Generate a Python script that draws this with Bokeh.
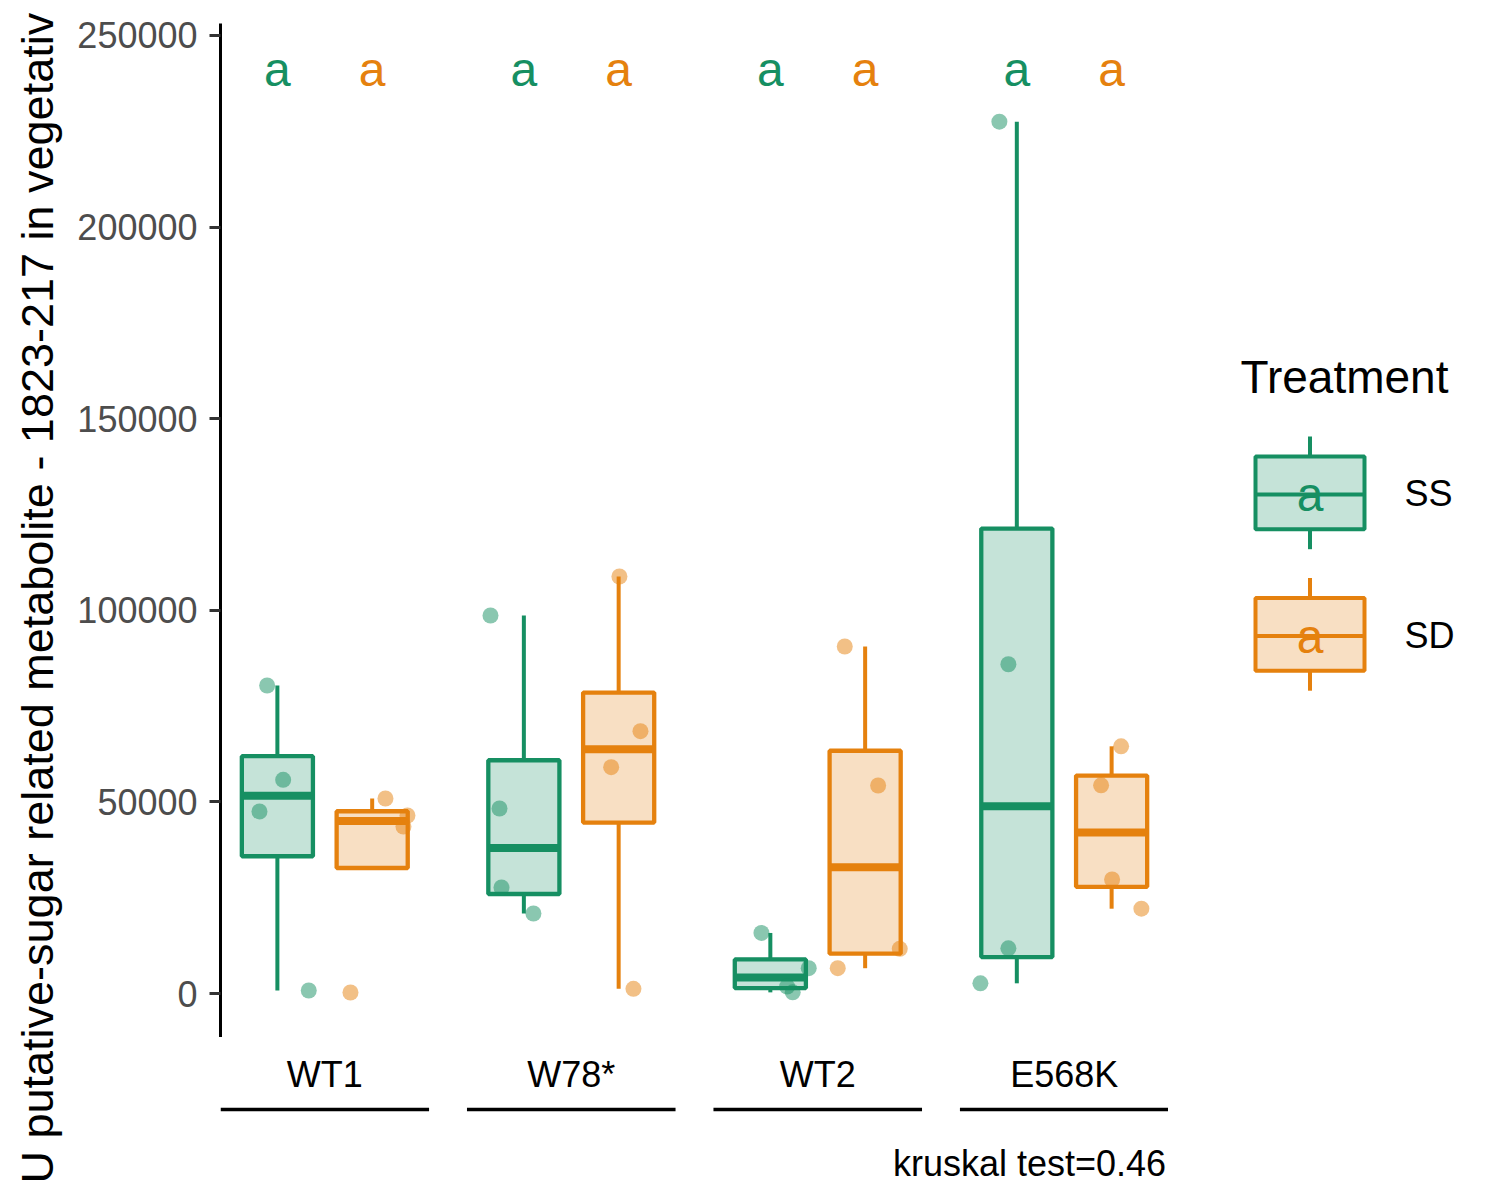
import numpy as np
from bokeh.plotting import figure
from bokeh.models import Range1d, FixedTicker, BasicTickFormatter
from bokeh.layouts import row, column
from bokeh.core.properties import value
from bokeh.embed import file_html
from bokeh.resources import INLINE

# ---------------- data ----------------
genotypes = ["WT1", "W78*", "WT2", "E568K"]
treatments = ["SS", "SD"]
colors = {"SS": "#168F62", "SD": "#E5810E"}

WT1_SS = [80380, 55770, 47490, 780]
WT1_SD = [50890, 46450, 43580, 260]
W78_SS = [98640, 48280, 27660, 20880]
W78_SD = [108820, 68450, 59060, 1230]
WT2_SS = [15800, 6600, 1800, 300]
WT2_SD = [90550, 54280, 11660, 6600]
E568K_SS = [227500, 85930, 11800, 2660]
E568K_SD = [64510, 54330, 29750, 22130]

# horizontal jitter of each point (in treatment-position units)
WT1_SS_jit = [-0.108, 0.061, -0.189, 0.331]
WT1_SD_jit = [0.140, 0.372, 0.330, -0.229]
W78_SS_jit = [-0.352, -0.257, -0.236, 0.101]
W78_SD_jit = [0.008, 0.230, -0.079, 0.156]
WT2_SS_jit = [-0.094, 0.405, 0.177, 0.236]
WT2_SD_jit = [-0.215, 0.137, 0.365, -0.289]
E568K_SS_jit = [-0.184, -0.089, -0.089, -0.384]
E568K_SD_jit = [0.100, -0.111, 0.005, 0.314]

letters_SS = ["a", "a", "a", "a"]
letters_SD = ["a", "a", "a", "a"]
letter_y = 241000
y_ticks = [0, 50000, 100000, 150000, 200000, 250000]
kruskal_label = "kruskal test=0.46"
y_title = "U putative-sugar related metabolite - 1823-217 in vegetativ"
legend_title = "Treatment"

values = {
    ("WT1", "SS"): WT1_SS, ("WT1", "SD"): WT1_SD,
    ("W78*", "SS"): W78_SS, ("W78*", "SD"): W78_SD,
    ("WT2", "SS"): WT2_SS, ("WT2", "SD"): WT2_SD,
    ("E568K", "SS"): E568K_SS, ("E568K", "SD"): E568K_SD,
}
jitters = {
    ("WT1", "SS"): WT1_SS_jit, ("WT1", "SD"): WT1_SD_jit,
    ("W78*", "SS"): W78_SS_jit, ("W78*", "SD"): W78_SD_jit,
    ("WT2", "SS"): WT2_SS_jit, ("WT2", "SD"): WT2_SD_jit,
    ("E568K", "SS"): E568K_SS_jit, ("E568K", "SD"): E568K_SD_jit,
}
letters = {"SS": letters_SS, "SD": letters_SD}

FONT = value("Liberation Sans")
PANEL_STEP = 2.6      # panel width 2.2 + spacing 0.4
BOX_W = 0.75
TOTAL_H = 1192
LEFT_W = 72
MAIN_BORDER = 148


def box_stats(v):
    v = np.asarray(v, float)
    q1, med, q3 = np.percentile(v, [25, 50, 75])
    iqr = q3 - q1
    inside = v[(v >= q1 - 1.5 * iqr) & (v <= q3 + 1.5 * iqr)]
    lo = min(q1, inside.min())
    hi = max(q3, inside.max())
    return q1, med, q3, lo, hi


def bare(fig):
    fig.outline_line_color = None
    fig.grid.visible = False
    fig.background_fill_color = "white"
    fig.border_fill_color = "white"
    return fig


xr = Range1d(0.4, 0.4 + PANEL_STEP * len(genotypes) - 0.4)

# ---------------- main figure ----------------
main = bare(figure(width=MAIN_BORDER + 948, height=1037, x_range=xr,
                   y_range=Range1d(-11480, 253130),
                   output_backend="svg", toolbar_location=None, title=None,
                   x_axis_location=None, min_border_left=MAIN_BORDER, min_border_right=0,
                   min_border_top=23, min_border_bottom=0))

ya = main.yaxis[0]
ya.ticker = FixedTicker(ticks=y_ticks)
ya.formatter = BasicTickFormatter(use_scientific=False)
ya.axis_line_width = 3
ya.axis_line_color = "black"
ya.major_tick_line_width = 3
ya.major_tick_line_color = "#333333"
ya.major_tick_in = 0
ya.major_tick_out = 11
ya.minor_tick_line_color = None
ya.major_label_text_font = "Liberation Sans"
ya.major_label_text_font_size = "36px"
ya.major_label_text_color = "#4D4D4D"
ya.major_label_standoff = 12

for gi, g in enumerate(genotypes):
    for ti, t in enumerate(treatments):
        xc = 1 + ti + PANEL_STEP * gi
        col = colors[t]
        v = values[(g, t)]
        q1, med, q3, lo, hi = box_stats(v)
        main.segment(x0=[xc, xc], y0=[q3, q1], x1=[xc, xc], y1=[hi, lo],
                     line_color=col, line_width=4)
        main.vbar(x=[xc], width=BOX_W, top=[q3], bottom=[q1], fill_color=col,
                  fill_alpha=0.25, line_color=col, line_width=4.3)
        main.segment(x0=[xc - BOX_W / 2], y0=[med], x1=[xc + BOX_W / 2], y1=[med],
                     line_color=col, line_width=8)
        xs = [xc + j for j in jitters[(g, t)]]
        main.scatter(x=xs, y=v, size=16, fill_color=col, fill_alpha=0.5,
                     line_color=None)
        main.text(x=[xc], y=[letter_y], text=[letters[t][gi]], text_color=col,
                  text_font=FONT, text_font_size="48px", text_align="center",
                  text_baseline="alphabetic")

# ---------------- bottom strip figure ----------------
bot_h = TOTAL_H - 1037
bottom = bare(figure(width=MAIN_BORDER + 948, height=bot_h, x_range=xr,
                     y_range=Range1d(0, bot_h),
                     output_backend="svg", toolbar_location=None, title=None,
                     x_axis_location=None, y_axis_location=None,
                     min_border_left=MAIN_BORDER, min_border_right=0,
                     min_border_top=0, min_border_bottom=0))
n = len(genotypes)
centers = [1.5 + PANEL_STEP * i for i in range(n)]
bottom.text(x=centers, y=[118] * n, text=genotypes, text_color="black",
            text_font=FONT, text_font_size="36px", text_align="center",
            text_baseline="alphabetic")
bottom.segment(x0=[0.4 + PANEL_STEP * i for i in range(n)], y0=[83] * n,
               x1=[2.6 + PANEL_STEP * i for i in range(n)], y1=[83] * n,
               line_color="black", line_width=3.5)
bottom.text(x=[xr.end - 0.025], y=[29], text=[kruskal_label], text_color="black",
            text_font=FONT, text_font_size="36px", text_align="right",
            text_baseline="alphabetic")

# ---------------- y title figure ----------------
left = bare(figure(width=LEFT_W, height=TOTAL_H, x_range=Range1d(0, LEFT_W),
                   y_range=Range1d(0, TOTAL_H),
                   output_backend="svg", toolbar_location=None, title=None,
                   x_axis_location=None, y_axis_location=None,
                   min_border_left=0, min_border_right=0, min_border_top=0,
                   min_border_bottom=0))
left.text(x=[37], y=[9], text=[y_title], angle=np.pi / 2, text_color="black",
          text_font=FONT, text_font_size="45px", text_align="left",
          text_baseline="alphabetic")

# ---------------- legend figure ----------------
leg_w = 1492 - (LEFT_W + MAIN_BORDER + 948)
leg = bare(figure(width=leg_w, height=TOTAL_H, x_range=Range1d(0, leg_w),
                  y_range=Range1d(0, TOTAL_H),
                  output_backend="svg", toolbar_location=None, title=None,
                  x_axis_location=None, y_axis_location=None,
                  min_border_left=0, min_border_right=0, min_border_top=0,
                  min_border_bottom=0))
leg.text(x=[72], y=[816], text=[legend_title], text_color="black", text_font=FONT,
         text_font_size="46px", text_align="left", text_baseline="alphabetic")
for ti, t in enumerate(treatments):
    col = colors[t]
    dy = -141.5 * ti
    kx = 141.5
    leg.segment(x0=[kx, kx], y0=[736 + dy, 663.3 + dy], x1=[kx, kx],
                y1=[756 + dy, 643.3 + dy], line_color=col, line_width=4)
    leg.quad(left=[87], right=[196], top=[736 + dy], bottom=[663.3 + dy], fill_color=col,
             fill_alpha=0.25, line_color=col, line_width=4)
    leg.segment(x0=[87], y0=[698 + dy], x1=[196], y1=[698 + dy], line_color=col,
                line_width=4)
    leg.text(x=[kx], y=[698 + dy], text=["a"], text_color=col, text_font=FONT,
             text_font_size="48px", text_align="center", text_baseline="alphabetic")
    leg.text(x=[236], y=[699 + dy], text=[t], text_color="black", text_font=FONT,
             text_font_size="36px", text_align="left", text_baseline="alphabetic")

layout = row(left, column(main, bottom), leg)
open("out.html", "w").write(file_html(layout, INLINE))
